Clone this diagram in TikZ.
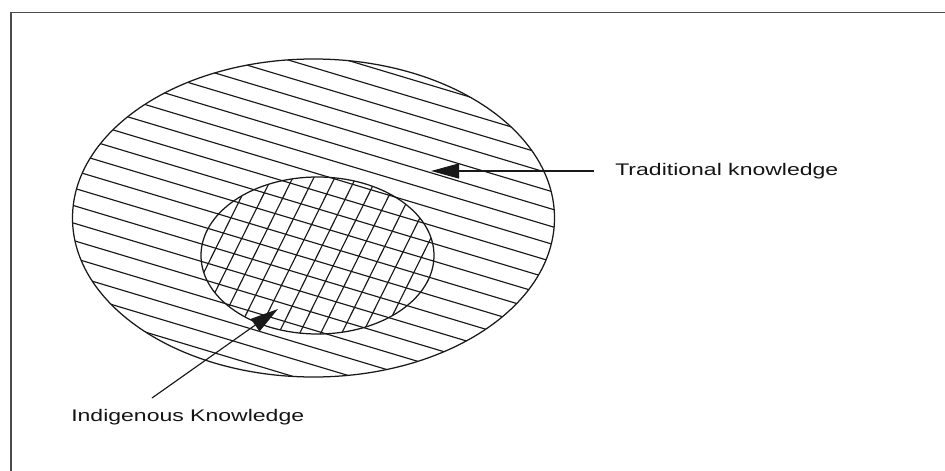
\documentclass[tikz,border=0pt]{standalone}
\usepackage{fontspec}
\setmainfont{Liberation Sans}
\usetikzlibrary{arrows.meta}
\begin{document}
\begin{tikzpicture}[x=1pt,y=-1pt,
  hatch/.style={line width=1.15pt,draw=black!90},
  rim/.style={line width=1.25pt,draw=black!90},
  frame/.style={line width=1.4pt,draw=black!70},
  arr/.style={line width=1.15pt,draw=black!90,-{Triangle[length=28pt,width=15pt]}},
  lbl/.style={font=\fontsize{16.8}{20}\selectfont,text=black!92,inner sep=0pt,xscale=1.37,transform shape}]
\useasboundingbox (0,0) rectangle (945,471);
\fill[white] (0,0) rectangle (945,471);
% frame (only top and left edges are visible)
\draw[frame] (11,471) -- (11,12.7) -- (945,12.7);
% outer hatching
\begin{scope}
  \clip (313.5,218) ellipse [x radius=241, y radius=159];
  \foreach \c in {-168,-150.5,...,175} {
    \draw[hatch] (40,{124+\c+0.3*40}) -- (600,{124+\c+0.3*600});
  }
\end{scope}
% inner cross hatching
\begin{scope}
  \clip (317.5,255.5) ellipse [x radius=116.5, y radius=78.5];
  \foreach \k in {-147,-126,...,150} {
    \draw[hatch] ({317.5+\k+57},140) -- ({317.5+\k-57},370);
  }
\end{scope}
\draw[rim] (313.5,218) ellipse [x radius=241, y radius=159];
\draw[rim] (317.5,255.5) ellipse [x radius=116.5, y radius=78.5];
% labels
\node[lbl,anchor=west] (trad) at (615,171) {Traditional knowledge};
\node[lbl,anchor=west] (ind) at (71,417) {Indigenous Knowledge};
\coordinate (tradtip) at (431,171);
\coordinate (indtip) at (278,309);
\coordinate (indtail) at (152,398);
\draw[arr] ([xshift=-21pt]trad.west) -- (tradtip);
\draw[arr] (indtail) -- (indtip);
\end{tikzpicture}
\end{document}
